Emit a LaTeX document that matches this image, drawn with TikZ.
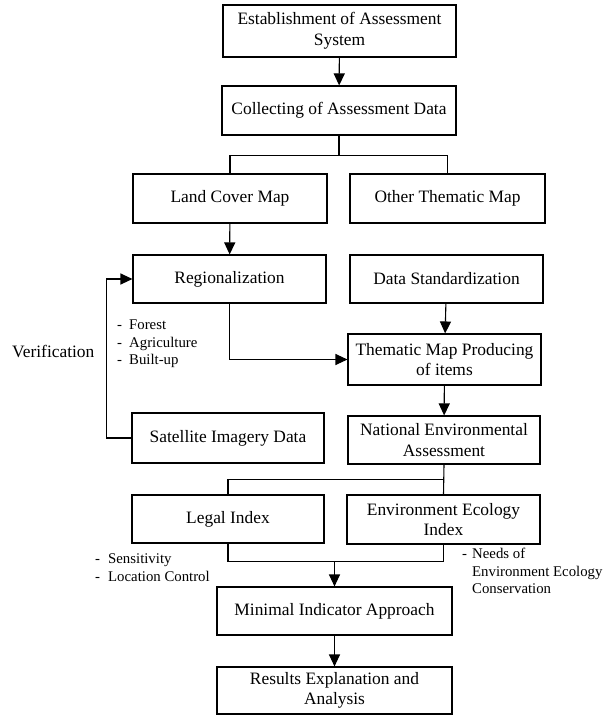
\documentclass[tikz,border=0pt]{standalone}
\usepackage{fontspec}
\setmainfont{Liberation Serif}
\usetikzlibrary{arrows.meta,calc}
\begin{document}
\begin{tikzpicture}[x=1pt,y=-1pt,
 box/.style={draw,line width=1.1pt,inner sep=0pt,align=center,font=\fontsize{17.4}{20.5}\selectfont},
 arr/.style={line width=1.1pt,-{Triangle[length=12pt,width=11pt]}},
 ln/.style={line width=1.1pt},
 lbl/.style={inner sep=0pt,align=left,anchor=west,font=\fontsize{14.8}{17.5}\selectfont}]
\useasboundingbox (0,0) rectangle (604,717);
% boxes
\node[box,minimum width=233pt,minimum height=52pt] (est) at (339.5,31) {Establishment of Assessment\\System};
\node[box,minimum width=234pt,minimum height=49pt] (col) at (339,110.5) {Collecting of Assessment Data};
\node[box,minimum width=194pt,minimum height=49pt] (land) at (230,198.5) {Land Cover Map};
\node[box,minimum width=195pt,minimum height=49pt] (other) at (447.5,198.5) {Other Thematic Map};
\node[box,minimum width=193pt,minimum height=48pt] (reg) at (229.5,279) {Regionalization};
\node[box,minimum width=193pt,minimum height=48pt] (std) at (446.5,279) {Data Standardization};
\node[box,minimum width=193pt,minimum height=51pt] (them) at (444.5,359.5) {Thematic Map Producing\\of items};
\node[box,minimum width=192pt,minimum height=48pt] (nat) at (444,440) {National Environmental\\Assessment};
\node[box,minimum width=192pt,minimum height=50pt] (sat) at (228,438) {Satellite Imagery Data};
\node[box,minimum width=192pt,minimum height=48pt] (legal) at (228,519) {Legal Index};
\node[box,minimum width=193pt,minimum height=49pt] (env) at (443.5,519.5) {Environment Ecology\\Index};
\node[box,minimum width=235pt,minimum height=48pt] (min) at (334.5,611) {Minimal Indicator Approach};
\node[box,minimum width=235pt,minimum height=47pt] (res) at (334.5,690.5) {Results Explanation and\\Analysis};
% labels
\node[inner sep=0pt,anchor=west,font=\fontsize{17.4}{20.5}\selectfont] (ver) at (12,352) {Verification};
\node[lbl] (lc) at (117,344) {\makebox[12pt][l]{-}Forest\\\makebox[12pt][l]{-}Agriculture\\\makebox[12pt][l]{-}Built-up};
\node[lbl,font=\fontsize{14.8}{18}\selectfont] (legl) at (95,568) {\makebox[13pt][l]{-}Sensitivity\\\makebox[13pt][l]{-}Location Control};
\node[lbl] (envl) at (462,571) {\makebox[10pt][l]{-}Needs of\\\hspace*{10pt}Environment Ecology\\\hspace*{10pt}Conservation};
% coordinates
\coordinate (j1) at ($(col.south)+(0,20)$);
\coordinate (j2) at ($(nat.south)+(0,15)$);
\coordinate (j3) at ($(legal.south)+(0,18)$);
\coordinate (vx) at ($(sat.west)+(-25,0)$);
% connectors
\draw[arr] (est) -- (col);
\draw[ln] (col.south) -- (j1);
\draw[ln] (land.north) |- (j1) -| (other.north);
\draw[arr] (land) -- (reg);
\draw[arr] (std) -- (them);
\draw[arr] (reg.south) |- (them.west);
\draw[arr] (them) -- (nat);
\draw[arr] (sat.west) -- (vx) |- (reg.west);
\draw[ln] (nat.south) -- (env.north);
\draw[ln] (j2) -| (legal.north);
\draw[ln] (legal.south) |- (j3) -| (env.south);
\draw[arr] (j3 -| min.north) -- (min.north);
\draw[arr] (min) -- (res);
\end{tikzpicture}
\end{document}
